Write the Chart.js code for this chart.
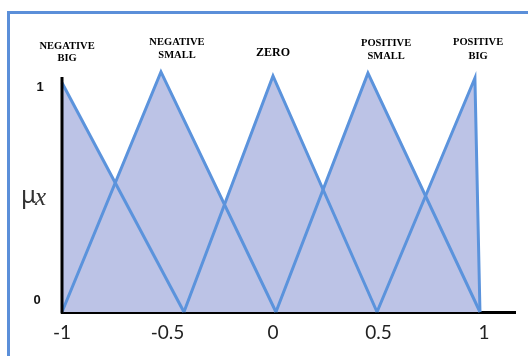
<!DOCTYPE html>
<html>
<head>
<meta charset="utf-8">
<script src="https://cdn.jsdelivr.net/npm/chart.js@4.4.0/dist/chart.umd.min.js"></script>
<style>
  html, body { margin: 0; padding: 0; background: #fff; }
</style>
</head>
<body>
<canvas id="fuzzy" width="528" height="356"></canvas>
<script>
// membership functions, vertices (x = input, y = degree)
const termNames = [["NEGATIVE", "BIG"], ["NEGATIVE", "SMALL"], ["ZERO"], ["POSITIVE", "SMALL"], ["POSITIVE", "BIG"]];
const nbX = [-1, -0.422];
const nbY = [0.98, 0];
const nsX = [-1, -0.531, 0.014];
const nsY = [0, 1.026, 0];
const zeX = [-0.422, 0.0, 0.493];
const zeY = [0, 1.009, 0];
const psX = [0.014, 0.45, 0.981];
const psY = [0, 1.021, 0];
const pbX = [0.493, 0.957, 0.981];
const pbY = [0, 1.0, 0];
const xTicks = [-1, -0.5, 0, 0.5, 1];
const yTicks = [1, 0];

const lineBlue = '#5b93dc';
const fillLav = '#bcc3e6';

const toPoints = (xs, ys) => xs.map((x, i) => ({x: x, y: ys[i]}));

// where the term names sit (x in input units, line centres in px)
const labelAt = [
    {x: -0.976, y: [46, 58]},
    {x: -0.455, y: [42, 55]},
    {x: 0.0, y: [53]},
    {x: 0.536, y: [43, 56]},
    {x: 0.972, y: [42, 56]}
];

const decorPlugin = {
    id: 'decor',
    beforeDraw(chart) {
        const ctx = chart.ctx;
        ctx.save();
        ctx.fillStyle = '#5b8fd9';
        ctx.fillRect(7, 11, 3, 345);
        ctx.fillRect(7, 11, 521, 3);
        ctx.restore();
    },
    afterDatasetsDraw(chart) {
        const ctx = chart.ctx;
        const xs = chart.scales.x, ys = chart.scales.y;
        const area = chart.chartArea;
        ctx.save();
        // y axis line
        ctx.strokeStyle = '#000';
        ctx.lineWidth = 3;
        ctx.beginPath();
        ctx.moveTo(area.left, ys.getPixelForValue(1) - 1);
        ctx.lineTo(area.left, area.bottom + 1.5);
        ctx.stroke();

        // y tick labels
        ctx.fillStyle = '#111';
        ctx.font = 'bold 13px "Liberation Sans"';
        ctx.textAlign = 'center';
        ctx.textBaseline = 'middle';
        ctx.fillText(String(yTicks[0]), 40, ys.getPixelForValue(yTicks[0]) + 9);
        ctx.fillText(String(yTicks[1]), 37, ys.getPixelForValue(yTicks[1]) - 12);

        // mu_x
        ctx.fillStyle = '#333';
        ctx.textAlign = 'left';
        ctx.textBaseline = 'alphabetic';
        ctx.font = '24px "Noto Sans"';
        ctx.fillText('μ', 21, 203);
        ctx.font = 'italic 25px "Liberation Serif"';
        ctx.fillText('x', 35, 205);

        // term names
        ctx.fillStyle = '#000';
        ctx.textAlign = 'center';
        ctx.textBaseline = 'middle';
        termNames.forEach((lines, i) => {
            ctx.font = lines.length == 1 ? 'bold 12px "Liberation Serif"' : 'bold 10.5px "Liberation Serif"';
            const px = xs.getPixelForValue(labelAt[i].x);
            lines.forEach((t, j) => ctx.fillText(t, px, labelAt[i].y[j]));
        });
        ctx.restore();
    }
};

const mkSet = (name, xs, ys) => ({
    label: name,
    data: toPoints(xs, ys),
    borderColor: lineBlue,
    borderWidth: 3,
    borderJoinStyle: 'miter',
    backgroundColor: fillLav,
    fill: 'origin',
    tension: 0,
    pointRadius: 0,
    clip: false
});

new Chart(document.getElementById('fuzzy'), {
    type: 'line',
    data: {
        datasets: [
            mkSet('NB', nbX, nbY),
            mkSet('NS', nsX, nsY),
            mkSet('ZE', zeX, zeY),
            mkSet('PS', psX, psY),
            mkSet('PB', pbX, pbY)
        ]
    },
    options: {
        responsive: false,
        animation: false,
        events: [],
        layout: { padding: { left: 0, top: 71, right: 13, bottom: 0 } },
        plugins: {
            legend: { display: false },
            tooltip: { enabled: false },
            filler: { drawTime: 'beforeDatasetsDraw' }
        },
        scales: {
            x: {
                type: 'linear',
                min: -1,
                max: 1.147,
                z: 1,
                afterBuildTicks: (s) => { s.ticks = xTicks.map(v => ({value: v})); },
                afterFit: (s) => { s.height = 44; },
                grid: { display: false, drawTicks: false },
                border: { display: true, color: '#000', width: 3 },
                ticks: {
                    padding: 9,
                    color: '#222',
                    font: { family: 'Lato', size: 19 },
                    maxRotation: 0,
                    callback: (v) => String(v)
                }
            },
            y: {
                type: 'linear',
                min: 0,
                max: 1.03,
                afterFit: (s) => { s.width = 62; },
                grid: { display: false, drawTicks: false },
                border: { display: false },
                ticks: { display: false }
            }
        }
    },
    plugins: [decorPlugin]
});
</script>
</body>
</html>
